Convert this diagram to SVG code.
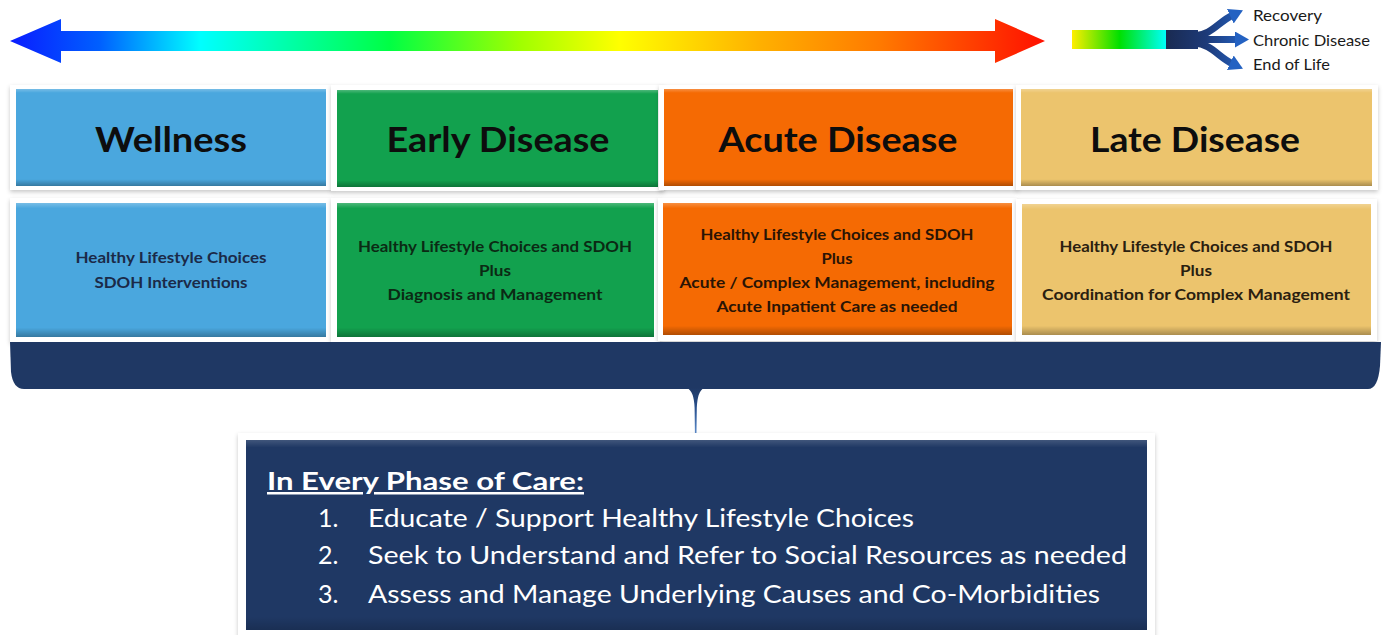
<svg xmlns="http://www.w3.org/2000/svg" width="1385" height="635" viewBox="0 0 1385 635">
  <defs>
    <style>
      .hdr { font-family: Lato, "Open Sans", "Liberation Sans", sans-serif; font-weight: 700; font-size: 35px; fill: #0d0d0d; text-anchor: middle; }
      .body { font-family: Lato, "Open Sans", "Liberation Sans", sans-serif; font-weight: 700; font-size: 15.5px; text-anchor: middle; }
      .out { font-family: Lato, "Open Sans", "Liberation Sans", sans-serif; font-size: 15px; fill: #1a1a1a; }
      .list { font-family: Lato, "Open Sans", "Liberation Sans", sans-serif; font-size: 25px; fill: #ffffff; }
      .frame { fill: #ffffff; filter: url(#shadow); }
      .bevel { fill: url(#bevel); }
    </style>
    <filter id="shadow" x="-5%" y="-10%" width="110%" height="125%">
      <feDropShadow dx="0" dy="2" stdDeviation="2" flood-color="#000000" flood-opacity="0.22"/>
    </filter>
    <linearGradient id="bevel" x1="0" y1="0" x2="0" y2="1">
      <stop offset="0" stop-color="#ffffff" stop-opacity="0.25"/>
      <stop offset="0.04" stop-color="#ffffff" stop-opacity="0"/>
      <stop offset="0.93" stop-color="#000000" stop-opacity="0"/>
      <stop offset="1" stop-color="#000000" stop-opacity="0.28"/>
    </linearGradient>
    <linearGradient id="spectrum" gradientUnits="userSpaceOnUse" x1="10" y1="0" x2="1045" y2="0">
      <stop offset="0" stop-color="#0a1cff"/>
      <stop offset="0.087" stop-color="#0060ff"/>
      <stop offset="0.184" stop-color="#00ffff"/>
      <stop offset="0.367" stop-color="#00ff44"/>
      <stop offset="0.493" stop-color="#a0ff00"/>
      <stop offset="0.589" stop-color="#ffff00"/>
      <stop offset="0.725" stop-color="#ffb000"/>
      <stop offset="0.84" stop-color="#ff7a00"/>
      <stop offset="1" stop-color="#ff1000"/>
    </linearGradient>
    <linearGradient id="tail" gradientUnits="userSpaceOnUse" x1="1072" y1="0" x2="1167" y2="0">
      <stop offset="0" stop-color="#ffee00"/>
      <stop offset="0.5" stop-color="#00e000"/>
      <stop offset="1" stop-color="#00ffff"/>
    </linearGradient>
    <linearGradient id="branch" gradientUnits="userSpaceOnUse" x1="1167" y1="0" x2="1245" y2="0">
      <stop offset="0" stop-color="#1a2b52"/>
      <stop offset="0.5" stop-color="#1d3a78"/>
      <stop offset="1" stop-color="#2462c2"/>
    </linearGradient>
    <linearGradient id="pointer" x1="0" y1="0" x2="0" y2="1">
      <stop offset="0" stop-color="#1f3864"/>
      <stop offset="0.4" stop-color="#2a5290"/>
      <stop offset="1" stop-color="#6a9ad8"/>
    </linearGradient>
    <marker id="tip" viewBox="0 0 14 16" refX="3" refY="8" markerWidth="14" markerHeight="16" markerUnits="userSpaceOnUse" orient="auto">
      <path d="M0,0 L14,8 L0,16 Z" fill="#2462c2"/>
    </marker>
  </defs>

  <rect width="1385" height="635" fill="#ffffff"/>

  <!-- progression arrow across the top -->
  <g id="progression">
    <path d="M10,41 L61,19 L61,31 L995,31 L995,19 L1045,41 L995,63 L995,51 L61,51 L61,63 Z" fill="url(#spectrum)"/>
  </g>

  <!-- outcome fork at top right -->
  <g id="outcomes">
    <rect x="1072" y="30" width="95" height="19" fill="url(#tail)"/>
    <rect x="1166" y="30" width="32" height="19" fill="url(#branch)"/>
    <g fill="none" stroke="url(#branch)" stroke-width="7">
      <path d="M1194,36 C1212,35 1218,22 1233,15" marker-end="url(#tip)"/>
      <path d="M1194,39.5 L1238,39.5" marker-end="url(#tip)"/>
      <path d="M1194,43 C1212,44 1218,57 1233,64" marker-end="url(#tip)"/>
    </g>
    <text class="out" x="1253" y="21" textLength="69" lengthAdjust="spacingAndGlyphs">Recovery</text>
    <text class="out" x="1253" y="46" textLength="117" lengthAdjust="spacingAndGlyphs">Chronic Disease</text>
    <text class="out" x="1253" y="70" textLength="77" lengthAdjust="spacingAndGlyphs">End of Life</text>
  </g>

  <!-- phase headers -->
  <g id="wellness">
    <rect class="frame" x="10" y="85" width="322" height="105"/>
    <rect x="16" y="89" width="310" height="97" fill="#4aa7de"/>
    <rect class="bevel" x="16" y="89" width="310" height="97"/>
    <text class="hdr" x="171" y="152" textLength="152" lengthAdjust="spacingAndGlyphs">Wellness</text>
  </g>
  <g id="early-disease">
    <rect class="frame" x="331" y="85" width="333" height="106"/>
    <rect x="337" y="90" width="321" height="97" fill="#12a14e"/>
    <rect class="bevel" x="337" y="90" width="321" height="97"/>
    <text class="hdr" x="498" y="152" textLength="223" lengthAdjust="spacingAndGlyphs">Early Disease</text>
  </g>
  <g id="acute-disease">
    <rect class="frame" x="659" y="85" width="359" height="105"/>
    <rect x="664" y="89" width="349" height="97" fill="#f56a03"/>
    <rect class="bevel" x="664" y="89" width="349" height="97"/>
    <text class="hdr" x="838" y="152" textLength="239" lengthAdjust="spacingAndGlyphs">Acute Disease</text>
  </g>
  <g id="late-disease">
    <rect class="frame" x="1016" y="85" width="362" height="105"/>
    <rect x="1021" y="89" width="351" height="97" fill="#ecc46d"/>
    <rect class="bevel" x="1021" y="89" width="351" height="97"/>
    <text class="hdr" x="1195" y="152" textLength="210" lengthAdjust="spacingAndGlyphs">Late Disease</text>
  </g>

  <!-- care for each phase -->
  <g id="wellness-care">
    <rect class="frame" x="10" y="198" width="322" height="144"/>
    <rect x="16" y="203" width="310" height="134" fill="#4aa7de"/>
    <rect class="bevel" x="16" y="203" width="310" height="134"/>
    <g class="body" fill="#1b2a48">
      <text x="171" y="263" textLength="191" lengthAdjust="spacingAndGlyphs">Healthy Lifestyle Choices</text>
      <text x="171" y="288" textLength="153" lengthAdjust="spacingAndGlyphs">SDOH Interventions</text>
    </g>
  </g>
  <g id="early-care">
    <rect class="frame" x="331" y="198" width="329" height="144"/>
    <rect x="337" y="203" width="317" height="134" fill="#12a14e"/>
    <rect class="bevel" x="337" y="203" width="317" height="134"/>
    <g class="body" fill="#0b2a14">
      <text x="495" y="252" textLength="274" lengthAdjust="spacingAndGlyphs">Healthy Lifestyle Choices and SDOH</text>
      <text x="495" y="276" textLength="32" lengthAdjust="spacingAndGlyphs">Plus</text>
      <text x="495" y="300" textLength="215" lengthAdjust="spacingAndGlyphs">Diagnosis and Management</text>
    </g>
  </g>
  <g id="acute-care">
    <rect class="frame" x="658" y="198" width="359" height="143"/>
    <rect x="663" y="203" width="349" height="132" fill="#f56a03"/>
    <rect class="bevel" x="663" y="203" width="349" height="132"/>
    <g class="body" fill="#2a1405">
      <text x="837" y="240" textLength="273" lengthAdjust="spacingAndGlyphs">Healthy Lifestyle Choices and SDOH</text>
      <text x="837" y="264" textLength="31" lengthAdjust="spacingAndGlyphs">Plus</text>
      <text x="837" y="288" textLength="315" lengthAdjust="spacingAndGlyphs">Acute / Complex Management, including</text>
      <text x="837" y="312" textLength="241" lengthAdjust="spacingAndGlyphs">Acute Inpatient Care as needed</text>
    </g>
  </g>
  <g id="late-care">
    <rect class="frame" x="1016" y="199" width="361" height="142"/>
    <rect x="1022" y="204" width="349" height="131" fill="#ecc46d"/>
    <rect class="bevel" x="1022" y="204" width="349" height="131"/>
    <g class="body" fill="#2a2010">
      <text x="1196" y="252" textLength="273" lengthAdjust="spacingAndGlyphs">Healthy Lifestyle Choices and SDOH</text>
      <text x="1196" y="276" textLength="32" lengthAdjust="spacingAndGlyphs">Plus</text>
      <text x="1196" y="300" textLength="308" lengthAdjust="spacingAndGlyphs">Coordination for Complex Management</text>
    </g>
  </g>

  <!-- band spanning all phases, with its callout pointer -->
  <g id="connectors">
    <path d="M10,342 L1381,342 L1380,366 Q1378,389 1368,389 L24,389 Q13,389 11,372 Z" fill="#1f3864"/>
    <path d="M687,388 Q694,391 694.6,408 L695,440 L696.4,440 L696.8,408 Q697.4,391 704,388 Z" fill="url(#pointer)"/>
  </g>

  <!-- summary box -->
  <g id="every-phase">
    <rect class="frame" x="238" y="433" width="917" height="205"/>
    <rect x="246" y="440" width="901" height="190" fill="#1f3864"/>
    <rect class="bevel" x="246" y="440" width="901" height="190" opacity="0.6"/>
    <text class="list" x="267" y="490" font-weight="700" font-size="27" text-decoration="underline" textLength="317" lengthAdjust="spacingAndGlyphs">In Every Phase of Care:</text>
    <text class="list" x="318" y="527">1.</text>
    <text class="list" x="368" y="527" textLength="546" lengthAdjust="spacingAndGlyphs">Educate / Support Healthy Lifestyle Choices</text>
    <text class="list" x="318" y="564">2.</text>
    <text class="list" x="368" y="564" textLength="759" lengthAdjust="spacingAndGlyphs">Seek to Understand and Refer to Social Resources as needed</text>
    <text class="list" x="318" y="603">3.</text>
    <text class="list" x="368" y="603" textLength="732" lengthAdjust="spacingAndGlyphs">Assess and Manage Underlying Causes and Co-Morbidities</text>
  </g>
</svg>
